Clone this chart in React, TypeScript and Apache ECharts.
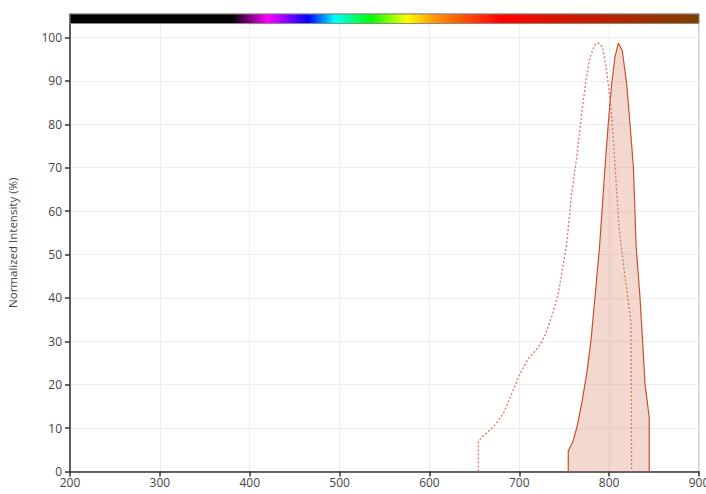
import React, { useEffect, useRef } from "react";
import * as echarts from "echarts";

// Excitation (dotted) spectrum
const excitationWl = [654.4, 654.4, 658.1, 671, 682.2, 691.5, 700.8, 710, 721.2, 728.6, 736, 743.4, 749, 752.5, 758.3, 763.9, 769.4, 774.2, 778.7, 784.3, 788, 792.7, 797.2, 801.6, 804.6, 807.6, 811.3, 814.6, 817.6, 821.3, 824.3, 825];
const excitationVal = [0, 6.8, 7.9, 10.2, 13.3, 17.9, 22.5, 26, 28.6, 31.3, 35.6, 40.9, 47.8, 52, 64, 72.4, 82.4, 90.1, 95.5, 98.4, 98.7, 97.8, 92.4, 84.7, 77, 67, 55.5, 50, 44.8, 39.4, 34, 0];

// Emission (filled) spectrum
const emissionWl = [754.5, 754.5, 760, 764.6, 769.4, 775, 779.8, 784.3, 789.4, 795.4, 799, 802.8, 806.5, 810.2, 814.6, 819.5, 823.2, 827, 830, 834.3, 837.2, 839.9, 844.6, 844.6];
const emissionVal = [0, 4.7, 7.1, 10.6, 15.6, 22.5, 30.2, 40.2, 52, 70.1, 80.1, 89.3, 95.5, 98.7, 97, 89.3, 80.1, 70.1, 52, 40.2, 30.2, 20.2, 12.5, 0];

const xTicks = [200, 300, 400, 500, 600, 700, 800, 900];
const yTicks = [0, 10, 20, 30, 40, 50, 60, 70, 80, 90, 100];

// Wavelength colour bar
const barWl = [200, 380, 420, 465, 495, 535, 575, 605, 640, 680, 900];
const barColors = ["#000000", "#000000", "#ff00ff", "#0000ff", "#00ffff", "#00ff00", "#ffff00", "#ff9900", "#ff4d00", "#ff0000", "#7b3f00"];
const barRange = [103.2, 105.4];

const FONT = "'Open Sans', sans-serif";

export default function App() {
  const ref = useRef<HTMLDivElement>(null);
  useEffect(() => {
    if (!ref.current) return;
    const chart = echarts.init(ref.current, undefined, { renderer: "svg" });
    const xMin = xTicks[0];
    const xMax = xTicks[xTicks.length - 1];
    const stops = barWl.map((w, i) => ({ offset: (w - xMin) / (xMax - xMin), color: barColors[i] }));
    chart.setOption({
      animation: false,
      grid: {
        left: 70,
        right: 7,
        top: 14,
        bottom: 22.5,
        containLabel: false,
        outerBoundsMode: "none",
        show: true,
        borderColor: "#999",
        borderWidth: 1,
        backgroundColor: "transparent",
      },
      xAxis: {
        type: "value",
        min: xMin,
        max: xMax,
        interval: 100,
        axisLine: { show: true, onZero: false, lineStyle: { color: "#333", width: 1.5 } },
        axisTick: { show: true, length: 5, lineStyle: { color: "#333", width: 1.5 } },
        axisLabel: { color: "#444", fontFamily: FONT, fontSize: 12, margin: 5 },
        splitLine: { show: true, lineStyle: { color: "#eeeeee", width: 1 } },
      },
      yAxis: {
        type: "value",
        min: 0,
        max: barRange[1],
        interval: 10,
        name: "Normalized Intensity (%)",
        nameLocation: "middle",
        nameGap: 52,
        nameTextStyle: { color: "#444", fontFamily: FONT, fontSize: 11.5 },
        axisLine: { show: true, lineStyle: { color: "#333", width: 1.5 } },
        axisTick: { show: true, length: 5, customValues: yTicks, lineStyle: { color: "#333", width: 1.5 } },
        axisLabel: { color: "#444", fontFamily: FONT, fontSize: 12, margin: 8, customValues: yTicks },
        splitLine: { show: true, lineStyle: { color: "#eeeeee", width: 1 } },
      },
      series: [
        {
          type: "line",
          data: emissionWl.map((w, i) => [w, emissionVal[i]]),
          showSymbol: false,
          symbol: "none",
          lineStyle: { color: "#c9502f", width: 1.2 },
          areaStyle: { color: "rgba(204,85,51,0.33)", origin: 0 },
          z: 2,
        },
        {
          type: "line",
          data: excitationWl.map((w, i) => [w, excitationVal[i]]),
          showSymbol: false,
          symbol: "none",
          lineStyle: { color: "#d47a62", width: 1.3, type: [2, 2] },
          z: 3,
          markArea: {
            silent: true,
            itemStyle: {
              color: new echarts.graphic.LinearGradient(0, 0, 1, 0, stops),
              borderColor: "#888",
              borderWidth: 1,
            },
            data: [[{ xAxis: xMin, yAxis: barRange[0] }, { xAxis: xMax, yAxis: barRange[1] }]],
          },
        },
      ],
    });
    return () => chart.dispose();
  }, []);
  return (
    <div
      ref={ref}
      style={{ position: "fixed", left: 0, top: 0, width: 706, height: 494, background: "#fff" }}
    />
  );
}
